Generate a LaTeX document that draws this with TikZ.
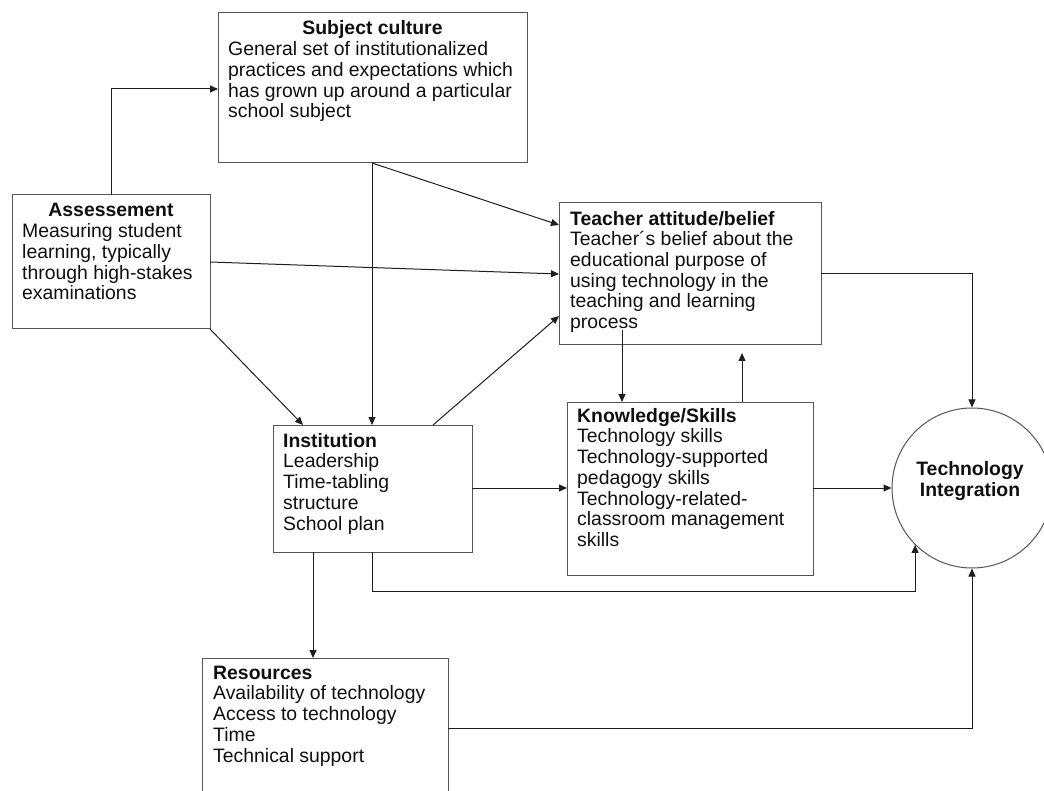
\documentclass[tikz,border=0pt]{standalone}
\usepackage{fontspec}
\setmainfont{Liberation Sans}
\usetikzlibrary{arrows.meta,calc}
\definecolor{boxc}{RGB}{85,85,85}
\definecolor{linec}{RGB}{30,30,30}
\definecolor{txtc}{RGB}{15,15,15}
\newcommand{\topstrut}{\rule{0pt}{15pt}}
\begin{document}
\begin{tikzpicture}[x=1pt,y=-1pt,
  box/.style={draw=boxc, line width=1pt, anchor=north west, inner sep=0pt, outer sep=0pt},
  txt/.style={anchor=north west, align=left, inner sep=0pt, text=txtc, font=\fontsize{19.4}{20.7}\selectfont},
  ttl/.style={anchor=base, inner sep=0pt, text=txtc, font=\fontsize{19.4}{20.7}\selectfont\bfseries},
  arr/.style={draw=linec, line width=1pt, -{Triangle[length=8pt,width=7pt]}}]
\useasboundingbox (0,0) rectangle (1044,791);

% boxes
\node[box, minimum width=309pt, minimum height=150pt] (sc) at (218,13) {};
\node[box, minimum width=198pt, minimum height=134pt] (as) at (12,195) {};
\node[box, minimum width=262pt, minimum height=142pt] (ta) at (559,203) {};
\node[box, minimum width=199pt, minimum height=127pt] (inst) at (273,425) {};
\node[box, minimum width=246pt, minimum height=173pt] (ks) at (567,402) {};
\node[box, minimum width=246pt, minimum height=142pt] (rs) at (202,658) {};
\node[circle, draw=boxc, line width=1pt, minimum size=160pt, inner sep=0pt] (ti) at (972,488) {};

% texts (first baseline = top coordinate + 15)
\node[ttl] (sct) at (372.5,35) {Subject culture};
\node[txt] (scb) at (228,40.7) {\topstrut General set of institutionalized\\practices and expectations which\\has grown up around a particular\\school subject};
\node[ttl] (ast) at (111,217) {Assessement};
\node[txt] (asb) at (22,222.7) {\topstrut Measuring student\\learning, typically\\through high-stakes\\examinations};
\node[txt] (tat) at (570,210) {\topstrut\textbf{Teacher attitude/belief}\\Teacher´s belief about the\\educational purpose of\\using technology in the\\teaching and learning\\process};
\node[txt] (int) at (283,432) {\topstrut\textbf{Institution}\\Leadership\\Time-tabling\\structure\\School plan};
\node[txt] (kst) at (577,407) {\topstrut\textbf{Knowledge/Skills}\\Technology skills\\Technology-supported\\pedagogy skills\\Technology-related-\\classroom management\\skills};
\node[txt] (rst) at (213,664) {\topstrut\textbf{Resources}\\Availability of technology\\Access to technology\\Time\\Technical support};
\node[anchor=center, align=center, inner sep=0pt, text=txtc, font=\fontsize{19.4}{20.7}\selectfont\bfseries] (tit) at (970,481) {Technology\\Integration};

% helper coordinates
\coordinate (tap) at ($(ta.south west)+(63,-15)$);
\coordinate (tab) at ($(ta.south west)+(183,8)$);

% connectors
\draw[arr] (as.north) |- ($(sc.north west)+(0,76)$);
\draw[arr] ($(sc.south west)+(154,0)$) -- ($(inst.north west)+(99,0)$);
\draw[arr] ($(sc.south west)+(154,0)$) -- ($(ta.north west)+(0,22)$);
\draw[arr] ($(as.north east)+(0,67)$) -- ($(ta.north west)+(0,71)$);
\draw[arr] (as.south east) -- ($(inst.north west)+(30,0)$);
\draw[arr] ($(inst.north west)+(160,0)$) -- ($(ta.north west)+(0,113)$);
\draw[arr] (tap) -- ($(ks.north west)+(55,0)$);
\draw[arr] ($(ks.north west)+(175,0)$) -- (tab);
\draw[arr] ($(inst.north east)+(0,63)$) -- ($(ks.north west)+(0,86)$);
\draw[arr] ($(ks.north east)+(0,86)$) -- (ti.west);
\draw[arr] ($(ta.north east)+(0,71)$) -| (ti.north);
\draw[arr] ($(inst.south west)+(99,0)$) |- ($(ti.south west)+(0,47)$) -- (ti.south west);
\draw[arr] ($(inst.south west)+(40,0)$) -- ($(rs.north west)+(111,0)$);
\draw[arr] ($(rs.north east)+(0,70)$) -| (ti.south);
\end{tikzpicture}
\end{document}
